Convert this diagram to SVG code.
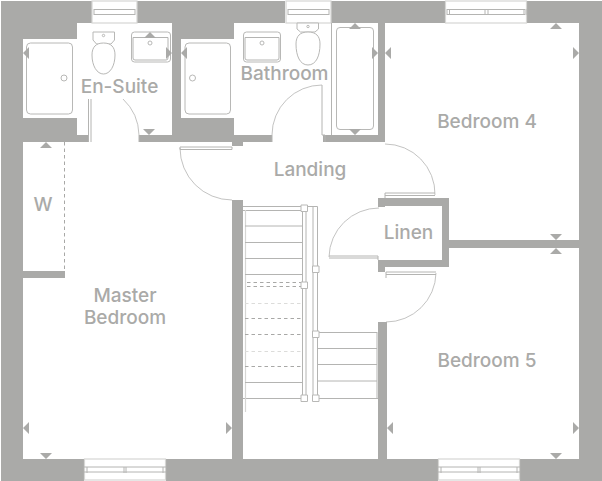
<svg xmlns="http://www.w3.org/2000/svg" width="602" height="481" viewBox="0 0 602 481">
<style>
.wall{fill:#aaaaa8}
.room{fill:#fff}
.ln{fill:none;stroke:#b4b4b2;stroke-width:1}
.lt{fill:none;stroke:#d6d6d4;stroke-width:1.2}
.fx{fill:#fff;stroke:#b8b8b6;stroke-width:1}
.arc{fill:none;stroke:#b4b4b2;stroke-width:.8}
.da{fill:none;stroke:#a8a8a6;stroke-width:1;stroke-dasharray:3.5 3}
.dl{fill:none;stroke:#dcdcda;stroke-width:1;stroke-dasharray:3.5 3}
.m{fill:#aaaaa8}
text{font-family:"Inter","Liberation Sans",sans-serif;font-size:19px;fill:#aaaaa8;text-anchor:middle;font-weight:500}
</style>
<rect width="602" height="481" fill="#fff"/>
<g id="walls">
<rect class="wall" x="1" y="1" width="601" height="480"/>
<path class="room" d="M77 23H172V135H139V142H88V135H77V118H23V39H77Z"/>
<path class="room" d="M234 23H378V135H323V142H272V135H234V118H181V39H234Z"/>
<path class="room" d="M385 23H579V240H449V198H378V142H385Z"/>
<path class="room" d="M23 142H232V146H243V142H378V207H385V206H442V260H378V459H243V200H232V459H23V278H65V271H23Z"/>
<path class="room" d="M449 248H579V459H387V322H378V272H385V267H449Z"/>
<rect class="room" x="92" y="1" width="45" height="22"/>
<rect class="room" x="285" y="1" width="46" height="22"/>
<rect class="room" x="445" y="1" width="82" height="22"/>
<rect class="room" x="84" y="459" width="82" height="22"/>
<rect class="room" x="438" y="459" width="82" height="22"/>
</g>
<g id="windows">
<g id="window-1"><rect class="lt" x="92" y="1" width="45" height="22"/><rect class="ln" x="94" y="9.500" width="41" height="5"/></g>
<g id="window-2"><rect class="lt" x="286" y="1" width="45" height="22"/><rect class="ln" x="288" y="9.500" width="41" height="5"/></g>
<g id="window-3"><rect class="lt" x="445.500" y="1" width="81" height="22"/><path class="ln" d="M447 9.500H525M447 14.500H525M447 9V15M449.500 9V15M485 9V15M488 9V15M524 9V15M526 9V15"/></g>
<g id="window-4"><rect class="lt" x="84.500" y="459" width="81" height="21"/><path class="ln" d="M84 467H166M84 472H166M87 467V473M124 467V473M126 467V473M163 467V473"/></g>
<g id="window-5"><rect class="lt" x="438.500" y="459" width="81" height="21"/><path class="ln" d="M438 467H520M438 472H520M441 467V473M478 467V473M480 467V473M517 467V473"/></g>
</g>
<g id="fixtures">
<rect class="fx" x="26.500" y="43" width="46" height="71" rx="4"/><circle class="fx" cx="64" cy="78" r="3"/>
<rect class="fx" x="185" y="43" width="45.500" height="71" rx="4"/><circle class="fx" cx="192.500" cy="78" r="3"/>
<path class="fx" d="M93 32H114.500V40L111 44H96.500L93 40Z"/><circle class="fx" cx="103.500" cy="35.500" r="1.200"/><path class="fx" d="M103.500 43C96 43 92 47 92 55C92 66 97 74 103.500 74C110 74 115 66 115 55C115 47 111 43 103.500 43Z"/>
<rect class="fx" x="131.500" y="32" width="39" height="30" rx="3"/><path class="ln" d="M133 37.500V58Q133 60 135 60H166Q168 60 168 58V37.500H133"/><circle class="fx" cx="150" cy="43" r="2"/>
<rect class="fx" x="243.500" y="32" width="37" height="30" rx="3"/><path class="ln" d="M245 37.500V58Q245 60 247 60H277Q279 60 279 58V37.500H245"/><circle class="fx" cx="262" cy="43" r="2"/>
<path class="fx" d="M297 23H318.500V29L315 32H300.500L297 29Z"/><circle class="fx" cx="308" cy="26.500" r="1.200"/><path class="fx" d="M308 32C300 32 296 36 296 44C296 56 300 65 308 65C316 65 320 56 320 44C320 36 316 32 308 32Z"/>
<rect class="fx" x="336.500" y="27.500" width="37" height="102" rx="3.500"/>
<path class="ln" d="M331.500 23V135"/>
<path class="da" d="M64.500 142V271"/>
</g>
<g id="stairs">
<path class="ln" d="M243 206.500H317.500V398M243 210.500H304M302.500 208V398M306 208V398M313 206V398M243 398.500H302M317 398.500H378"/>
<path class="lt" d="M245.500 210V412"/>
<path class="ln" d="M245 226H302M245 242.500H302M245 258.500H302M245 274.500H302M245 382.500H302M317 332.500H377M317 348.500H377M317 364.500H377M317 381H377M377 332V399"/>
<path class="da" d="M247 282.500H302M247 286.500H302M245 318.500H302M245 334.500H302M245 366.500H302"/>
<path class="dl" d="M245 303.500H302M245 351.500H302"/>
<path class="fx" d="M301 205H307.500V211.500H301ZM301 282H307.500V288.500H301ZM301 395H307.500V401.500H301ZM312.500 266H319V272.500H312.500ZM312.500 331H319V337.500H312.500ZM312.500 395H319V401.500H312.500Z"/>
</g>
<g id="doors">
<path class="ln" d="M180 147H232V149.500H180ZM88.500 99V142M91 99V142M139 135V142M322 85V135H325V142M272 135V142"/>
<path class="arc" d="M180 148A52 52 0 0 0 232 200"/>
<path class="arc" d="M123 99A51 51 0 0 1 139 135"/>
<path class="arc" d="M322 85A50 50 0 0 0 272 135"/>
<path class="ln" d="M385 193V198M385 193H435M385 195.500H435M329 256H378V260M329 258H378M386 272H436M386 274.500H436M386 272V278"/>
<path class="arc" d="M385 144A50 50 0 0 1 435 195"/>
<path class="arc" d="M379 208A50 50 0 0 0 329 257"/>
<path class="arc" d="M436 273A50 50 0 0 1 386 322"/>
</g>
<g id="markers">
<path class="m" d="M23 53L29 47V59ZM150 32L156 38H144ZM172 53L166 47V59ZM149 135L143 129H155ZM181 53L187 47V59ZM355 23L361 29H349ZM378 53L372 47V59ZM355 135L349 129H361ZM385 53L391 47V59ZM556 23L562 29H550ZM579 53L573 47V59ZM556 240L550 234H562ZM556 248L550 254H562ZM46 142L52 148H40ZM23 428L29 422V434ZM232 428L226 422V434ZM46 459L40 453H52ZM387 428L393 422V434ZM579 428L573 422V434ZM556 459L550 453H562Z"/>
</g>
<g id="labels">
<text id="label-ensuite" x="119.500" y="93">En-Suite</text>
<text id="label-bathroom" x="284.500" y="80">Bathroom</text>
<text id="label-bedroom4" x="487" y="128">Bedroom 4</text>
<text id="label-landing" x="310" y="176">Landing</text>
<text id="label-linen" x="408.500" y="239">Linen</text>
<text id="label-w" x="43" y="211">W</text>
<text id="label-master" x="125" y="302">Master</text>
<text x="125" y="324">Bedroom</text>
<text id="label-bedroom5" x="487" y="367">Bedroom 5</text>
</g>
</svg>
